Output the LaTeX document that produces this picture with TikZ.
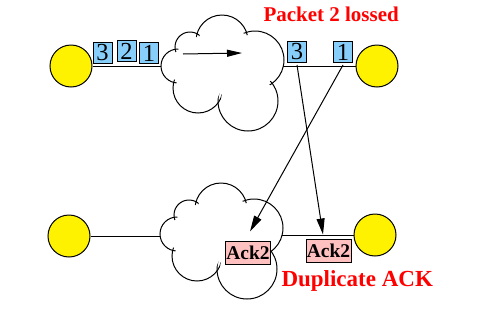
\documentclass[tikz,border=0pt]{standalone}
\usepackage{fontspec}
\setmainfont{Liberation Serif}
\usetikzlibrary{arrows.meta}
\definecolor{pktblue}{RGB}{135,206,250}
\definecolor{ackpink}{RGB}{255,192,192}
\newcommand\mycloud{%
  \foreach \cx/\cy/\r in {178/66/17,190/47/15,222/41/26,255/60/29,248/101/30,198/88/25}
    {\draw (\cx,\cy) circle[radius=\r pt];}
  \foreach \cx/\cy/\r in {178/66/17,190/47/15,222/41/26,255/60/29,248/101/30,198/88/25}
    {\fill[white] (\cx,\cy) circle[radius=\r pt-3pt];}
  \fill[white] (178,66) -- (190,47) -- (222,41) -- (255,60) -- (248,101) -- (198,88) -- cycle;
}
\begin{document}
\begin{tikzpicture}[x=1pt,y=-1pt,line width=1pt,
  host/.style={circle,draw,fill=yellow,minimum size=42pt,inner sep=0pt},
  pkt/.style={draw,fill=pktblue,minimum width=19pt,minimum height=21pt,inner sep=0pt,font=\fontsize{24.5}{24.5}\selectfont},
  ackbox/.style={draw,fill=ackpink,minimum width=45pt,minimum height=23pt,inner sep=0pt,font=\fontsize{19.5}{19.5}\selectfont\bfseries},
  arr/.style={-{Triangle[length=16pt,width=8pt]}},
  arrs/.style={-{Triangle[length=15pt,width=7pt]}},
  lbl/.style={text=red,anchor=base west,inner sep=0pt}]
\useasboundingbox (0,0) rectangle (480,314);
% clouds
\begin{scope}\mycloud\end{scope}
\begin{scope}[shift={(-1,168)}]\mycloud\end{scope}
% cloud edge points
\coordinate (tcl) at (161,66);
\coordinate (tcr) at (283.4,66);
\coordinate (bcl) at (160.1,236);
\coordinate (bcr) at (282.1,235);
\coordinate (fa) at (183,54);
\coordinate (fb) at (242,53);
% hosts
\node[host] (hTL) at (71,66) {};
\node[host] (hTR) at (377,66) {};
\node[host] (hBL) at (69,236) {};
\node[host] (hBR) at (375,235) {};
\draw (hTL) -- (tcl);
\draw (tcr) -- (hTR);
\draw (hBL) -- (bcl);
\draw (bcr) -- (hBR);
% packets
\node[pkt] (l3) at (102.5,52.5) {3};
\node[pkt] (l2) at (126.5,51) {2};
\node[pkt] (l1) at (149,53) {1};
\node[pkt] (r3) at (297,52) {3};
\node[pkt] (r1) at (343,52) {1};
% acks
\node[ackbox] (ackL) at (248,252.5) {Ack2};
\node[ackbox] (ackR) at (328.5,250.5) {Ack2};
% arrows
\draw[arrs] (fa) -- (fb);
\draw[arr] ([yshift=-2pt]r3.south) -- ([xshift=-5.5pt,yshift=4pt]ackR.north);
\draw[arr] ([yshift=-2pt]r1.south) -- ([xshift=2pt,yshift=9pt]ackL.north);
% labels
\node[lbl,font=\fontsize{21}{21}\selectfont\bfseries] (t1) at (263,21) {Packet 2 lossed};
\node[lbl,font=\fontsize{23}{23}\selectfont\bfseries] (t2) at (281,286) {Duplicate ACK};
\end{tikzpicture}
\end{document}
